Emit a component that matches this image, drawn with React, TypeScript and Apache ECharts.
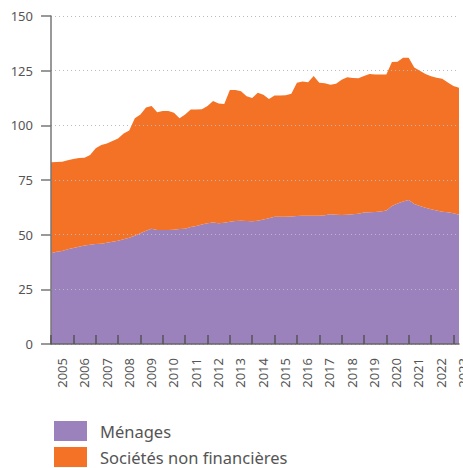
import React, { useEffect, useRef } from "react";
import * as echarts from "echarts";

const startYear = 2005;
const years = ["2005","2006","2007","2008","2009","2010","2011","2012","2013","2014","2015","2016","2017","2018","2019","2020","2021","2022","2023"];
const yTicks = [0, 25, 50, 75, 100, 125, 150];
const seriesNames = ["Ménages", "Sociétés non financières"];

// Quarterly values, 2005 T1 .. 2023 T2
const menages = [
  41.5, 42.2, 42.5, 43.3, 43.9, 44.5, 45.0, 45.4,
  45.7, 45.9, 46.3, 46.8, 47.2, 47.9, 48.6, 49.5,
  50.6, 51.8, 52.7, 52.1, 52.1, 52.1, 52.3, 52.6,
  52.7, 53.5, 54.0, 54.7, 55.2, 55.6, 55.2, 55.5,
  55.9, 56.2, 56.4, 56.3, 56.1, 56.4, 56.9, 57.5,
  58.2, 58.2, 58.2, 58.3, 58.5, 58.6, 58.7, 58.7,
  58.7, 58.9, 59.3, 59.1, 59.0, 59.1, 59.3, 59.6,
  60.1, 60.3, 60.4, 60.6, 61.0, 63.1, 64.3, 65.2,
  65.9, 64.0, 63.1, 62.3, 61.6, 61.0, 60.5, 60.2,
  59.8, 59.1,
];
const snf = [
  41.6, 41.0, 40.9, 40.7, 40.7, 40.6, 40.2, 41.0,
  43.8, 45.1, 45.4, 46.0, 46.8, 48.4, 49.0, 53.7,
  54.4, 56.4, 56.1, 53.9, 54.5, 54.5, 53.5, 50.6,
  52.3, 53.7, 53.2, 52.7, 53.6, 55.5, 54.8, 54.2,
  60.3, 60.0, 59.2, 57.0, 56.4, 58.5, 57.1, 54.5,
  55.4, 55.4, 55.6, 56.2, 61.0, 61.4, 61.0, 63.9,
  60.8, 60.3, 59.3, 59.9, 61.8, 62.9, 62.3, 61.9,
  62.5, 63.2, 62.8, 62.6, 62.3, 65.9, 64.8, 65.7,
  65.0, 62.4, 61.9, 61.2, 60.9, 60.8, 60.8, 59.4,
  58.2, 58.1,
];
const quarters = menages.map((_, i) => `${startYear + Math.floor(i / 4)}T${(i % 4) + 1}`);

const colors = ["#9b82bc", "#f37226"];
const FONT = "Noto Sans";

export default function App() {
  const ref = useRef<HTMLDivElement>(null);
  useEffect(() => {
    if (!ref.current) return;
    const chart = echarts.init(ref.current, undefined, { renderer: "svg" });
    chart.setOption({
      animation: false,
      color: colors,
      textStyle: { fontFamily: FONT },
      grid: [
        { left: 51, right: 4, top: 16, bottom: 124, outerBoundsMode: "none" },
        { left: 51, width: 423, top: 16, bottom: 124, outerBoundsMode: "none" },
      ],
      legend: {
        orient: "vertical",
        left: 54,
        top: 421,
        padding: 0,
        itemWidth: 33,
        itemHeight: 20,
        itemGap: 6,
        icon: "rect",
        textStyle: { fontSize: 16.5, color: "#555", fontFamily: FONT, padding: [0, 0, 0, 8] },
        data: seriesNames,
      },
      xAxis: [
        {
          type: "category",
          gridIndex: 0,
          data: quarters,
          boundaryGap: false,
          z: 10,
          axisLine: { show: true, lineStyle: { color: "#666", width: 1.5 } },
          axisTick: {
            show: true,
            inside: true,
            length: 9,
            interval: (index: number) => index % 4 === 0,
            lineStyle: { color: "#555", width: 1.5 },
          },
          axisLabel: { show: false },
          splitLine: { show: false },
        },
        {
          type: "category",
          gridIndex: 1,
          data: years,
          boundaryGap: true,
          axisLine: { show: false },
          axisTick: { show: false },
          axisLabel: { rotate: 90, margin: 14, fontSize: 13, color: "#555", fontFamily: FONT, interval: 0 },
          splitLine: { show: false },
        },
      ],
      yAxis: [
        {
          type: "value",
          gridIndex: 0,
          min: yTicks[0],
          max: yTicks[yTicks.length - 1],
          interval: 25,
          z: 10,
          axisLine: { show: true, lineStyle: { color: "#777", width: 1.5 } },
          axisTick: { show: true, length: 10, lineStyle: { color: "#777", width: 1.5 } },
          axisLabel: { margin: 18, fontSize: 13, color: "#555", fontFamily: FONT },
          splitLine: { show: true, lineStyle: { color: "#bbb", type: [1, 3], width: 1 } },
        },
        { type: "value", gridIndex: 1, show: false, min: 0, max: 150 },
      ],
      series: [
        {
          name: seriesNames[0],
          type: "line",
          stack: "total",
          xAxisIndex: 0,
          yAxisIndex: 0,
          symbol: "none",
          lineStyle: { width: 0 },
          areaStyle: { color: colors[0], opacity: 1 },
          data: menages,
        },
        {
          name: seriesNames[1],
          type: "line",
          stack: "total",
          xAxisIndex: 0,
          yAxisIndex: 0,
          symbol: "none",
          lineStyle: { width: 0 },
          areaStyle: { color: colors[1], opacity: 1 },
          data: snf,
        },
      ],
    });
    return () => chart.dispose();
  }, []);
  return (
    <div
      ref={ref}
      style={{ position: "fixed", left: 0, top: 0, width: 463, height: 468, background: "#fff" }}
    />
  );
}
